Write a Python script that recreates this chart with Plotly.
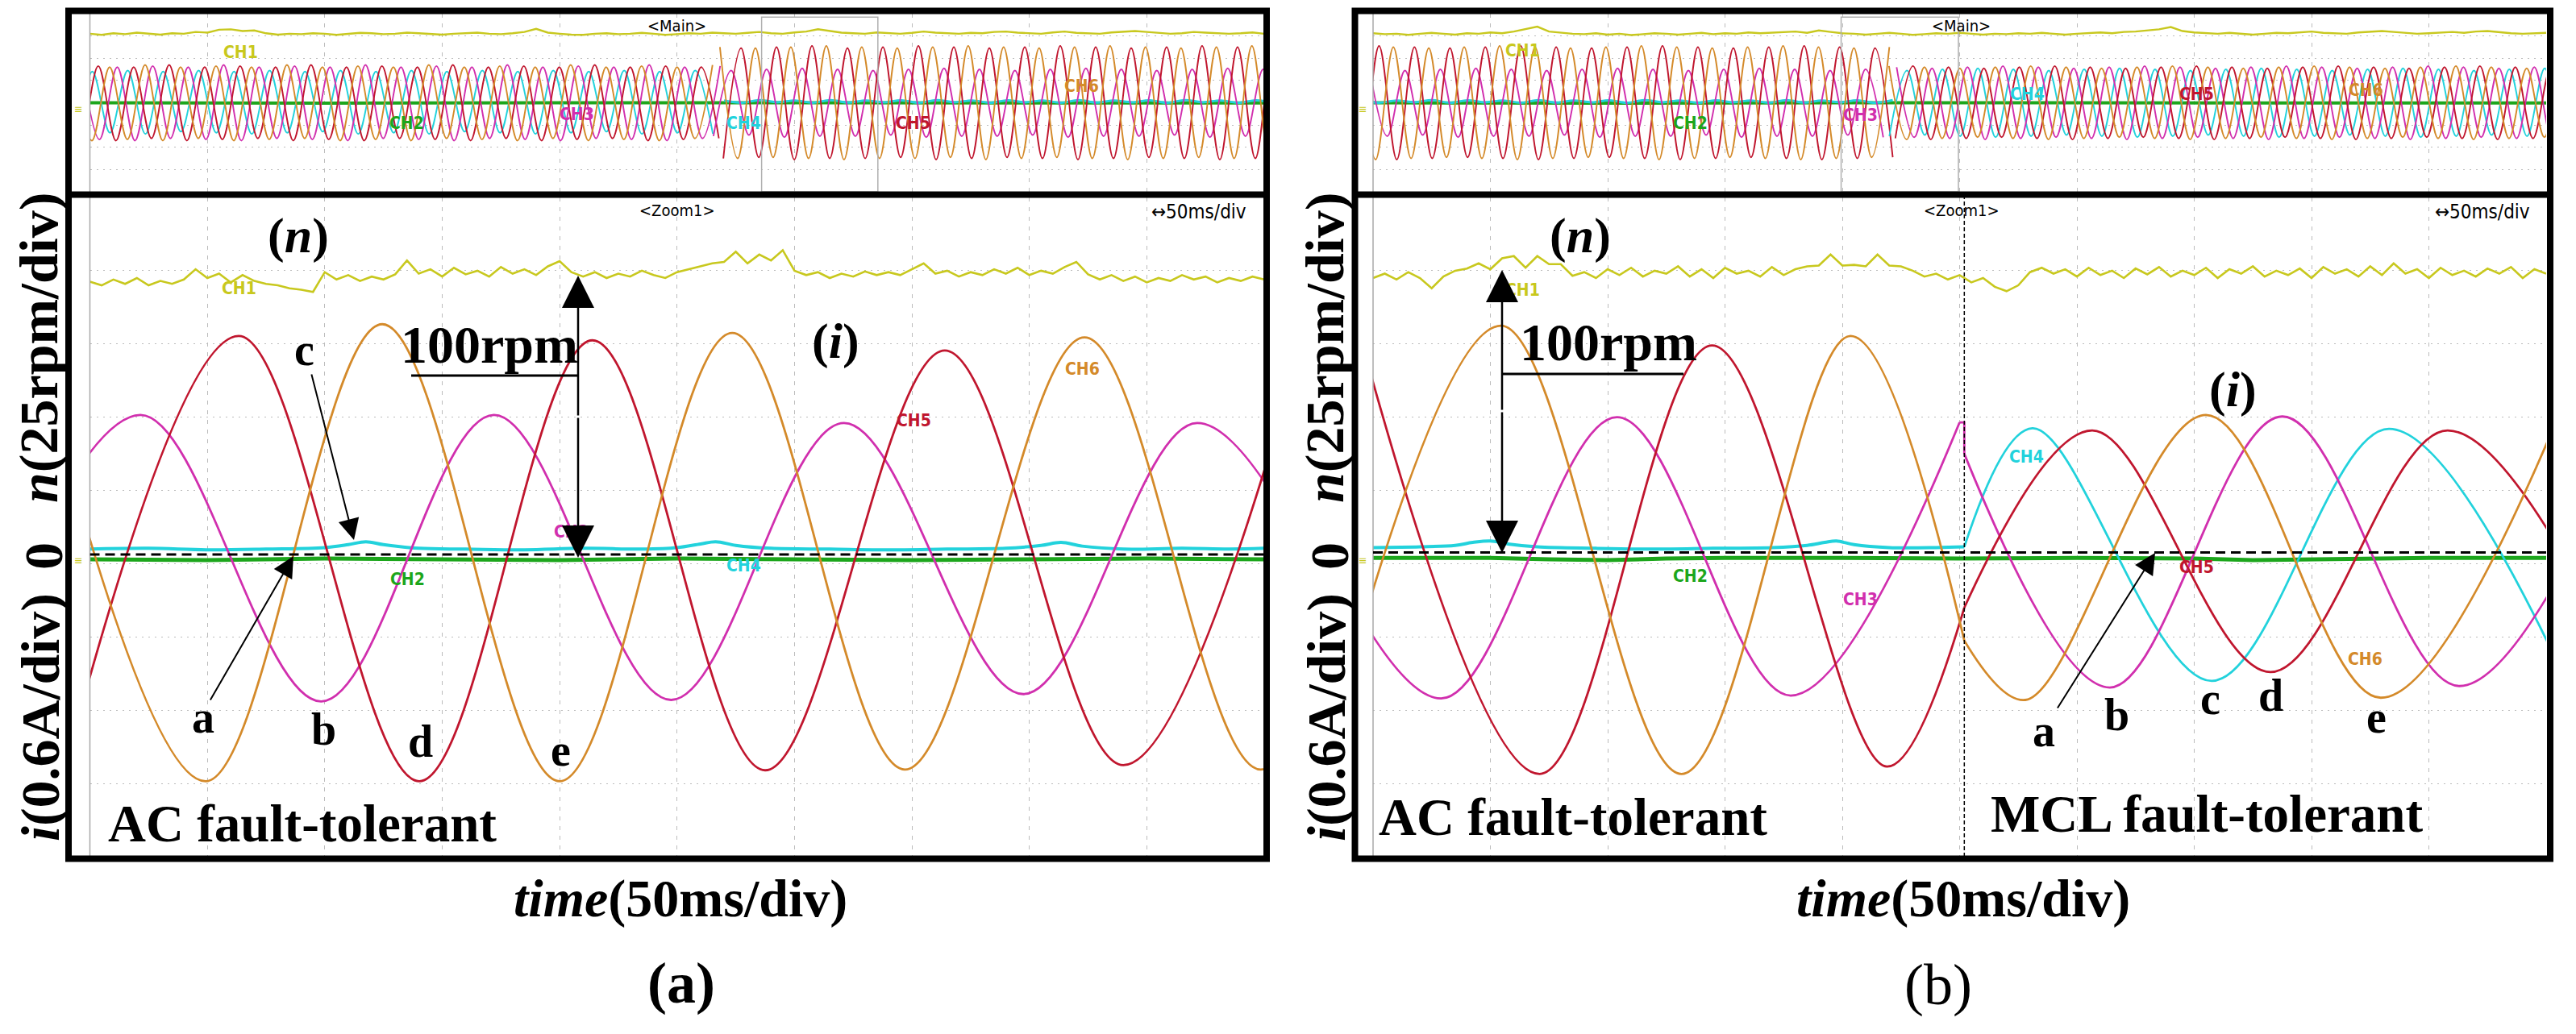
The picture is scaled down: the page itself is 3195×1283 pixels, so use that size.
import numpy as np
import plotly.graph_objects as go

# ======================= DATA =======================
# time unit: oscilloscope divisions (main window 500 ms/div, zoom window 50 ms/div)
# value unit: screen divisions of each window
HALF_MAIN = 0.151          # half period of the phase currents in the main window (div)

# ---------- panel (a) main window: switch MCL -> AC at A_SWITCH ----------
A_SWITCH = 5.45
CH4_A_PRE_T0, CH5_A_PRE_T0, CH6_A_PRE_T0, CH3_A_PRE_T0 = -0.282, -0.231, -0.134, -0.069
CH4_A_PRE = [5.45, 2.6, 5.4, 2.65, 5.45, 2.6, 5.4, 2.7, 5.45, 2.65, 5.4, 2.6, 5.45, 2.65, 5.4, 2.7, 5.45, 2.6, 5.4, 2.65,
             5.45, 2.6, 5.4, 2.7, 5.45, 2.65, 5.4, 2.6, 5.45, 2.65, 5.4, 2.7, 5.45, 2.6, 5.4, 2.65, 5.45, 2.6, 5.4, 2.7]
CH5_A_PRE = [5.6, 2.35, 5.65, 2.3, 5.6, 2.4, 5.7, 2.3, 5.6, 2.35, 5.65, 2.4, 5.6, 2.3, 5.7, 2.35, 5.6, 2.3, 5.65, 2.4,
             5.6, 2.35, 5.7, 2.3, 5.6, 2.4, 5.65, 2.3, 5.6, 2.35, 5.7, 2.4, 5.6, 2.3, 5.65, 2.35, 5.6, 2.4, 5.7, 2.3]
CH6_A_PRE = [5.65, 2.3, 5.6, 2.35, 5.7, 2.3, 5.6, 2.4, 5.65, 2.3, 5.6, 2.35, 5.7, 2.4, 5.6, 2.3, 5.65, 2.35, 5.6, 2.3,
             5.7, 2.4, 5.6, 2.35, 5.65, 2.3, 5.6, 2.4, 5.7, 2.3, 5.6, 2.35, 5.65, 2.3, 5.6, 2.4, 5.7, 2.35, 5.6, 2.3]
CH3_A_PRE = [5.7, 2.35, 5.6, 2.3, 5.65, 2.4, 5.6, 2.35, 5.7, 2.3, 5.6, 2.4, 5.65, 2.35, 5.6, 2.3, 5.7, 2.4, 5.6, 2.35,
             5.65, 2.3, 5.6, 2.4, 5.7, 2.35, 5.6, 2.3, 5.65, 2.4, 5.6, 2.35, 5.7, 2.3, 5.6, 2.4, 5.65, 2.35, 5.6, 2.3]
CH3_A_POST_T0, CH5_A_POST_T0, CH6_A_POST_T0, CH4_A_POST_T0 = 5.159, 5.243, 5.063, 5.40
CH5_A_POST = [6.5, 1.5, 6.45, 1.55, 6.5, 1.45, 6.55, 1.5, 6.45, 1.5, 6.5, 1.55, 6.55, 1.45, 6.5, 1.5, 6.45, 1.55, 6.5,
              1.5, 6.55, 1.45, 6.5, 1.5, 6.45, 1.55, 6.5, 1.5, 6.55, 1.45, 6.5, 1.5, 6.45, 1.55, 6.5, 1.5]
CH6_A_POST = [6.55, 1.45, 6.5, 1.5, 6.45, 1.55, 6.5, 1.5, 6.55, 1.45, 6.5, 1.5, 6.45, 1.5, 6.5, 1.55, 6.55, 1.45, 6.5,
              1.5, 6.45, 1.55, 6.5, 1.5, 6.55, 1.45, 6.5, 1.5, 6.45, 1.55, 6.5, 1.5, 6.55, 1.45, 6.5, 1.5]
CH3_A_POST = [5.5, 2.5, 5.45, 2.55, 5.5, 2.45, 5.55, 2.5, 5.5, 2.5, 5.45, 2.55, 5.5, 2.45, 5.55, 2.5, 5.5, 2.5, 5.45,
              2.55, 5.5, 2.45, 5.55, 2.5, 5.5, 2.5, 5.45, 2.55, 5.5, 2.45, 5.55, 2.5, 5.5, 2.5, 5.45, 2.55]
CH4_A_POST = [4.1, 4.0, 4.12, 4.02, 4.1, 4.0, 4.12, 4.01, 4.1, 4.02, 4.11, 4.0, 4.12, 4.02, 4.1, 4.0, 4.11, 4.02, 4.1,
              4.0, 4.12, 4.01, 4.1, 4.02, 4.11, 4.0, 4.12, 4.02, 4.1, 4.0, 4.11, 4.02, 4.1, 4.0]
CH1_A_MAIN = [7.1, 7.05, 7.12, 7.08, 7.15, 7.1, 7.06, 7.12, 7.1, 7.18, 7.15, 7.28, 7.3, 7.22, 7.25, 7.12, 7.06, 7.1, 7.08,
              7.12, 7.1, 7.05, 7.1, 7.14, 7.12, 7.08, 7.1, 7.15, 7.12, 7.1, 7.06, 7.1, 7.12, 7.15, 7.1, 7.08, 7.12, 7.18,
              7.32, 7.15, 7.1, 7.06, 7.05, 7.1, 7.12, 7.08, 7.1, 7.14, 7.1, 7.05, 7.08, 7.12, 7.1, 7.15, 7.12, 7.1, 7.14,
              7.18, 7.12, 7.1, 7.16, 7.2, 7.3, 7.22, 7.15, 7.12, 7.1, 7.16, 7.12, 7.1, 7.14, 7.2, 7.15, 7.12, 7.1, 7.14,
              7.12, 7.18, 7.2, 7.15, 7.12, 7.1, 7.16, 7.2, 7.14, 7.12, 7.1, 7.16, 7.2, 7.22, 7.18, 7.14, 7.1, 7.12, 7.18,
              7.15, 7.12, 7.1, 7.12, 7.16, 7.1]
CH2_MAIN_X = [0, 2, 4, 6, 8, 10]
CH2_MAIN_Y = [4.0, 3.98, 4.0, 3.99, 4.0, 3.99]
A_ZOOM_BOX = [5.72, 6.71]

# ---------- panel (a) zoom window (AC fault-tolerant) ----------
CH5_A_ZX = [-0.24, 1.267, 2.805, 4.28, 5.75, 7.28, 8.80, 10.3]
CH5_A_ZY = [1.05, 7.11, 1.03, 7.05, 1.18, 6.91, 1.25, 6.9]
CH6_A_ZX = [-0.5, 0.985, 2.49, 4.0, 5.47, 6.94, 8.47, 9.97, 11.45]
CH6_A_ZY = [7.25, 1.03, 7.27, 1.03, 7.15, 1.19, 7.09, 1.19, 7.1]
CH3_A_ZX = [-1.07, 0.43, 1.97, 3.44, 4.95, 6.42, 7.95, 9.43, 10.93]
CH3_A_ZY = [2.12, 6.03, 2.12, 6.03, 2.14, 5.92, 2.22, 5.92, 2.2]
CH4_A_ZX = [0, 0.5, 1.0, 1.5, 2.0, 2.2, 2.35, 2.5, 2.8, 3.2, 3.7, 4.2, 4.7, 5.0, 5.2, 5.33, 5.5, 5.8, 6.3, 6.8,
            7.3, 7.8, 8.1, 8.27, 8.45, 8.8, 9.3, 9.7, 10.0]
CH4_A_ZY = [4.2, 4.21, 4.19, 4.2, 4.22, 4.26, 4.3, 4.26, 4.21, 4.2, 4.19, 4.21, 4.2, 4.22, 4.27, 4.3, 4.25, 4.21, 4.2,
            4.19, 4.2, 4.21, 4.25, 4.29, 4.24, 4.2, 4.21, 4.2, 4.21]
CH2_A_ZX = [0, 1, 2, 3, 4, 5, 6, 7, 8, 9, 10]
CH2_A_ZY = [4.06, 4.05, 4.07, 4.06, 4.05, 4.07, 4.06, 4.05, 4.06, 4.07, 4.06]
CH1_A_Z = [7.85, 7.8, 7.88, 7.82, 7.9, 7.8, 7.86, 7.82, 7.88, 8.02, 7.9, 7.96, 7.84, 7.94, 7.86, 7.82, 7.8, 7.76, 7.74,
           7.71, 7.98, 7.88, 7.94, 7.86, 7.92, 7.88, 7.95, 8.14, 7.96, 8.02, 7.92, 8.04, 7.95, 8.0, 7.92, 8.05, 7.96,
           8.02, 7.94, 8.06, 8.13, 7.98, 7.92, 7.98, 7.9, 7.96, 7.92, 8.0, 7.94, 7.9, 7.98, 8.02, 8.06, 8.1, 8.12, 8.26,
           8.1, 8.22, 8.14, 8.28, 8.0, 7.94, 7.98, 7.9, 7.96, 7.92, 7.99, 7.94, 7.98, 7.94, 8.02, 8.1, 7.96, 8.0, 7.92,
           7.98, 7.94, 8.02, 7.96, 8.04, 7.94, 8.0, 7.96, 8.05, 8.12, 7.95, 7.88, 7.94, 7.86, 7.92, 7.84, 7.9, 7.86,
           7.94, 7.88, 7.92, 7.84, 7.9, 7.86, 7.92, 7.88]
A_ZERO = 4.125

# ---------- panel (b) main window: switch AC -> MCL at B_SWITCH ----------
B_SWITCH = 4.46
CH6_B_PRE_T0, CH3_B_PRE_T0, CH5_B_PRE_T0, CH4_B_PRE_T0 = -0.129, -0.030, -0.251, -0.10
CH5_B_PRE = [6.5, 1.5, 6.55, 1.45, 6.5, 1.5, 6.45, 1.55, 6.5, 1.5, 6.55, 1.45, 6.5, 1.5, 6.45, 1.55, 6.5, 1.5, 6.55,
             1.45, 6.5, 1.5, 6.45, 1.55, 6.5, 1.5, 6.55, 1.45, 6.5, 1.5, 6.45, 1.55, 6.5, 1.5]
CH6_B_PRE = [6.55, 1.45, 6.5, 1.5, 6.45, 1.55, 6.5, 1.5, 6.55, 1.45, 6.5, 1.5, 6.45, 1.55, 6.5, 1.5, 6.55, 1.45, 6.5,
             1.5, 6.45, 1.55, 6.5, 1.5, 6.55, 1.45, 6.5, 1.5, 6.45, 1.55, 6.5, 1.5, 6.55, 1.45]
CH3_B_PRE = [5.5, 2.5, 5.45, 2.55, 5.5, 2.45, 5.55, 2.5, 5.5, 2.5, 5.45, 2.55, 5.5, 2.45, 5.55, 2.5, 5.5, 2.5, 5.45,
             2.55, 5.5, 2.45, 5.55, 2.5, 5.5, 2.5, 5.45, 2.55, 5.5, 2.45, 5.55, 2.5, 5.5, 2.5]
CH4_B_PRE = [4.12, 4.0, 4.1, 4.02, 4.12, 4.0, 4.11, 4.02, 4.1, 4.0, 4.12, 4.01, 4.1, 4.02, 4.11, 4.0, 4.12, 4.02, 4.1,
             4.0, 4.11, 4.02, 4.1, 4.0, 4.12, 4.01, 4.1, 4.02, 4.11, 4.0, 4.12, 4.02, 4.1, 4.0]
CH4_B_POST_T0, CH5_B_POST_T0, CH6_B_POST_T0, CH3_B_POST_T0 = 4.25, 4.301, 4.398, 4.463
CH4_B_POST = [5.5, 2.5, 5.45, 2.55, 5.5, 2.5, 5.55, 2.45, 5.5, 2.5, 5.45, 2.55, 5.5, 2.5, 5.55, 2.45, 5.5, 2.5, 5.45,
              2.55, 5.5, 2.5, 5.55, 2.45, 5.5, 2.5, 5.45, 2.55, 5.5, 2.5, 5.55, 2.45, 5.5, 2.5, 5.45, 2.55, 5.5, 2.5,
              5.55, 2.45, 5.5, 2.5]
CH5_B_POST = [5.6, 2.4, 5.65, 2.35, 5.6, 2.4, 5.55, 2.45, 5.6, 2.4, 5.65, 2.35, 5.6, 2.4, 5.55, 2.45, 5.6, 2.4, 5.65,
              2.35, 5.6, 2.4, 5.55, 2.45, 5.6, 2.4, 5.65, 2.35, 5.6, 2.4, 5.55, 2.45, 5.6, 2.4, 5.65, 2.35, 5.6, 2.4,
              5.55, 2.45, 5.6, 2.4]
CH6_B_POST = [5.65, 2.35, 5.6, 2.4, 5.55, 2.45, 5.6, 2.4, 5.65, 2.35, 5.6, 2.4, 5.55, 2.45, 5.6, 2.4, 5.65, 2.35, 5.6,
              2.4, 5.55, 2.45, 5.6, 2.4, 5.65, 2.35, 5.6, 2.4, 5.55, 2.45, 5.6, 2.4, 5.65, 2.35, 5.6, 2.4, 5.55, 2.45,
              5.6, 2.4]
CH3_B_POST = [5.6, 2.45, 5.55, 2.4, 5.6, 2.35, 5.65, 2.4, 5.6, 2.45, 5.55, 2.4, 5.6, 2.35, 5.65, 2.4, 5.6, 2.45, 5.55,
              2.4, 5.6, 2.35, 5.65, 2.4, 5.6, 2.45, 5.55, 2.4, 5.6, 2.35, 5.65, 2.4, 5.6, 2.45, 5.55, 2.4, 5.6, 2.35,
              5.65, 2.4, 5.6, 2.45]
CH1_B_MAIN = [7.12, 7.08, 7.1, 7.05, 7.1, 7.14, 7.1, 7.06, 7.12, 7.1, 7.16, 7.12, 7.2, 7.3, 7.42, 7.2, 7.14, 7.1, 7.08,
              7.12, 7.06, 7.1, 7.04, 7.08, 7.12, 7.1, 7.06, 7.1, 7.14, 7.08, 7.12, 7.1, 7.16, 7.12, 7.14, 7.18, 7.2,
              7.14, 7.25, 7.18, 7.12, 7.1, 7.06, 7.1, 7.14, 7.1, 7.05, 7.08, 7.12, 7.1, 7.14, 7.1, 7.06, 7.1, 7.08,
              7.12, 7.1, 7.14, 7.1, 7.06, 7.1, 7.12, 7.16, 7.12, 7.18, 7.2, 7.24, 7.3, 7.4, 7.22, 7.16, 7.12, 7.1, 7.14,
              7.1, 7.06, 7.1, 7.14, 7.12, 7.16, 7.2, 7.14, 7.12, 7.1, 7.16, 7.2, 7.22, 7.18, 7.14, 7.1, 7.12, 7.16,
              7.18, 7.14, 7.2, 7.22, 7.16, 7.12, 7.1, 7.12, 7.14]
B_ZOOM_BOX = [3.99, 4.99]

# ---------- panel (b) zoom window (AC | MCL fault-tolerant) ----------
B_Z_SWITCH = 5.04
CH5_B_LX = [-0.1, 1.42, 2.89, 4.38, 5.04]
CH5_B_LY = [7.05, 1.13, 6.98, 1.23, 3.4]
CH5_B_RX = [5.04, 6.13, 7.65, 9.16, 10.67]
CH5_B_RY = [3.4, 5.82, 2.52, 5.82, 2.52]
CH6_B_LX = [-0.45, 1.09, 2.63, 4.07, 5.04]
CH6_B_LY = [1.13, 7.25, 1.13, 7.11, 2.95]
CH6_B_RX = [5.04, 5.56, 7.10, 8.59, 10.1]
CH6_B_RY = [2.95, 2.14, 6.03, 2.17, 6.0]
CH3_B_LX = [-0.92, 0.58, 2.08, 3.56, 5.0]
CH3_B_LY = [6.0, 2.16, 6.0, 2.2, 5.93]
CH3_B_JX = [5.0, 5.04, 5.04]
CH3_B_JY = [5.93, 5.93, 5.5]
CH3_B_RX = [5.04, 6.28, 7.75, 9.26, 10.77]
CH3_B_RY = [5.5, 2.31, 6.01, 2.33, 6.0]
CH4_B_LX = [0, 0.4, 0.7, 0.85, 1.0, 1.15, 1.4, 1.9, 2.4, 2.9, 3.4, 3.7, 3.85, 3.95, 4.1, 4.4, 4.8, 5.04]
CH4_B_LY = [4.22, 4.23, 4.25, 4.29, 4.31, 4.27, 4.23, 4.21, 4.2, 4.21, 4.22, 4.25, 4.29, 4.31, 4.26, 4.22, 4.22, 4.23]
CH4_B_RX = [5.04, 5.62, 7.15, 8.66, 10.17]
CH4_B_RY = [4.23, 5.85, 2.40, 5.84, 2.40]
CH2_B_ZX = [0, 1, 1.5, 2, 2.5, 3, 4, 5, 6, 7, 7.5, 8, 9, 10]
CH2_B_ZY = [4.08, 4.08, 4.06, 4.05, 4.07, 4.08, 4.08, 4.07, 4.08, 4.07, 4.05, 4.06, 4.08, 4.08]
CH1_B_Z = [7.9, 7.96, 7.88, 7.98, 7.9, 7.76, 7.92, 8.0, 8.03, 8.1, 8.02, 8.17, 8.2, 8.04, 8.2, 8.09, 8.09, 7.93,
           7.98, 7.9, 8.02, 7.94, 8.04, 7.92, 8.0, 7.96, 8.06, 7.92, 8.02, 7.9, 8.04, 7.96, 8.0, 7.92, 8.05, 7.94, 8.02,
           8.06, 8.07, 8.22, 8.07, 8.08, 8.06, 8.22, 8.07, 8.06, 8.0, 7.92, 7.96, 7.88, 7.94, 7.84, 7.9, 7.78, 7.72,
           7.8, 7.98, 8.04, 7.96, 8.02, 7.92, 8.04, 7.94, 8.0, 7.9, 8.03, 7.95, 8.05, 7.92, 8.0, 7.94, 8.04, 7.9, 8.02,
           7.96, 8.06, 7.92, 8.0, 7.94, 8.03, 7.9, 8.05, 7.96, 8.02, 7.92, 8.06, 7.94, 8.1, 7.96, 8.02, 7.9, 8.04, 7.94,
           8.0, 7.92, 8.03, 7.96, 8.05, 7.9, 8.02, 7.96]
B_ZERO = 4.154

# ======================= STYLE / GEOMETRY =======================
W, H = 3195, 1283
YEL, GRN, MAG, CYN, RED, ORG = '#c8c81e', '#1ca61c', '#d12fae', '#22d2dc', '#c0162e', '#d48a2a'
SERIF = "Liberation Serif, Times New Roman, serif"
SCOPE = "Liberation Sans Narrow, DejaVu Sans Condensed, Arial Narrow, Liberation Sans, sans-serif"

A_X0, A_X1 = 111.5, 1568
B_X0, B_X1 = 1703, 3158
MAIN_TOP, MAIN_BOT = 17, 238
ZOOM_TOP, ZOOM_BOT = 245, 1063


def px(x):
    return x / W


def py(y):
    return 1 - y / H


fig = go.Figure()


def add(x, y, axes, color, width, shape='spline'):
    fig.add_trace(go.Scatter(x=list(x), y=list(y), xaxis=axes[0], yaxis=axes[1], mode='lines',
                             line=dict(color=color, width=width, shape=shape, smoothing=1.0),
                             hoverinfo='skip', showlegend=False))


def seg(t0, vals, lo, hi):
    t = t0 + HALF_MAIN * np.arange(len(vals))
    v = np.asarray(vals, dtype=float)
    m = (t >= lo) & (t <= hi)
    return t[m], v[m]


MA, ZA, MB, ZB = ('x', 'y'), ('x2', 'y2'), ('x3', 'y3'), ('x4', 'y4')

# ----- panel (a) main -----
add(np.linspace(0, 10, len(CH1_A_MAIN)), CH1_A_MAIN, MA, YEL, 2.4, 'linear')
add(CH2_MAIN_X, CH2_MAIN_Y, MA, GRN, 4, 'linear')
for t0, vals, col in [(CH4_A_PRE_T0, CH4_A_PRE, CYN), (CH3_A_PRE_T0, CH3_A_PRE, MAG),
                      (CH5_A_PRE_T0, CH5_A_PRE, RED), (CH6_A_PRE_T0, CH6_A_PRE, ORG)]:
    add(*seg(t0, vals, -1, A_SWITCH), MA, col, 1.9)
add(*seg(CH4_A_POST_T0, CH4_A_POST, A_SWITCH - HALF_MAIN, 11), MA, CYN, 3)
for t0, vals, col in [(CH3_A_POST_T0, CH3_A_POST, MAG), (CH5_A_POST_T0, CH5_A_POST, RED),
                      (CH6_A_POST_T0, CH6_A_POST, ORG)]:
    add(*seg(t0, vals, A_SWITCH - HALF_MAIN, 11), MA, col, 1.9)

# ----- panel (a) zoom -----
add(np.linspace(0, 10, len(CH1_A_Z)), CH1_A_Z, ZA, YEL, 2.6, 'linear')
add(CH2_A_ZX, CH2_A_ZY, ZA, GRN, 5, 'linear')
add(CH4_A_ZX, CH4_A_ZY, ZA, CYN, 4)
add(CH3_A_ZX, CH3_A_ZY, ZA, MAG, 2.8)
add(CH5_A_ZX, CH5_A_ZY, ZA, RED, 2.8)
add(CH6_A_ZX, CH6_A_ZY, ZA, ORG, 2.8)

# ----- panel (b) main -----
add(np.linspace(0, 10, len(CH1_B_MAIN)), CH1_B_MAIN, MB, YEL, 2.4, 'linear')
add(CH2_MAIN_X, CH2_MAIN_Y, MB, GRN, 4, 'linear')
add(*seg(CH4_B_PRE_T0, CH4_B_PRE, -1, B_SWITCH), MB, CYN, 3)
for t0, vals, col in [(CH3_B_PRE_T0, CH3_B_PRE, MAG), (CH5_B_PRE_T0, CH5_B_PRE, RED),
                      (CH6_B_PRE_T0, CH6_B_PRE, ORG)]:
    add(*seg(t0, vals, -1, B_SWITCH), MB, col, 1.9)
for t0, vals, col in [(CH4_B_POST_T0, CH4_B_POST, CYN), (CH3_B_POST_T0, CH3_B_POST, MAG),
                      (CH5_B_POST_T0, CH5_B_POST, RED), (CH6_B_POST_T0, CH6_B_POST, ORG)]:
    add(*seg(t0, vals, B_SWITCH - HALF_MAIN, 11), MB, col, 1.9)

# ----- panel (b) zoom -----
add(np.linspace(0, 10, len(CH1_B_Z)), CH1_B_Z, ZB, YEL, 2.6, 'linear')
add(CH2_B_ZX, CH2_B_ZY, ZB, GRN, 5, 'linear')
add(CH4_B_LX, CH4_B_LY, ZB, CYN, 4)
add(CH4_B_RX, CH4_B_RY, ZB, CYN, 2.8)
add(CH3_B_LX, CH3_B_LY, ZB, MAG, 2.8)
add(CH3_B_JX, CH3_B_JY, ZB, MAG, 2.8, 'linear')
add(CH3_B_RX, CH3_B_RY, ZB, MAG, 2.8)
add(CH5_B_LX, CH5_B_LY, ZB, RED, 2.8)
add(CH5_B_RX, CH5_B_RY, ZB, RED, 2.8)
add(CH6_B_LX, CH6_B_LY, ZB, ORG, 2.8)
add(CH6_B_RX, CH6_B_RY, ZB, ORG, 2.8)

# ----- axes -----
axc = dict(showticklabels=False, ticks='', zeroline=False, showline=False, showgrid=True,
           gridcolor='#bcbcbc', gridwidth=1, dtick=1, tick0=0, fixedrange=True)
xdash, ydash = '5px,7px', '2px,6px'
fig.update_layout(
    width=W, height=H, margin=dict(l=0, r=0, t=0, b=0, pad=0),
    paper_bgcolor='white', plot_bgcolor='white', showlegend=False,
    xaxis=dict(**axc, domain=[px(A_X0), px(A_X1)], range=[0, 10], griddash=xdash, anchor='y'),
    yaxis=dict(**axc, domain=[py(MAIN_BOT), py(MAIN_TOP)], range=[0, 8], griddash=ydash, anchor='x'),
    xaxis2=dict(**axc, domain=[px(A_X0), px(A_X1)], range=[0, 10], griddash=xdash, anchor='y2'),
    yaxis2=dict(**axc, domain=[py(ZOOM_BOT), py(ZOOM_TOP)], range=[0, 9], griddash=ydash, anchor='x2'),
    xaxis3=dict(**axc, domain=[px(B_X0), px(B_X1)], range=[0, 10], griddash=xdash, anchor='y3'),
    yaxis3=dict(**axc, domain=[py(MAIN_BOT), py(MAIN_TOP)], range=[0, 8], griddash=ydash, anchor='x3'),
    xaxis4=dict(**axc, domain=[px(B_X0), px(B_X1)], range=[0, 10], griddash=xdash, anchor='y4'),
    yaxis4=dict(**axc, domain=[py(ZOOM_BOT), py(ZOOM_TOP)], range=[0, 9], griddash=ydash, anchor='x4'),
)

# ----- shapes -----
shapes = []


def pline(x0, y0, x1, y1, color='black', width=8, dash=None):
    d = dict(type='line', xref='paper', yref='paper', x0=px(x0), y0=py(y0), x1=px(x1), y1=py(y1),
             line=dict(color=color, width=width))
    if dash:
        d['line']['dash'] = dash
    shapes.append(d)


# screen left edges (grey)
for x0 in (A_X0, B_X0):
    pline(x0, MAIN_TOP, x0, MAIN_BOT, '#a8a8a8', 1.5)
    pline(x0, ZOOM_TOP, x0, ZOOM_BOT, '#a8a8a8', 1.5)
# zoom boxes in main windows
shapes.append(dict(type='rect', xref='x', yref='y', x0=A_ZOOM_BOX[0], x1=A_ZOOM_BOX[1], y0=0, y1=7.85,
                   line=dict(color='#b0b0b0', width=1.5)))
shapes.append(dict(type='rect', xref='x3', yref='y3', x0=B_ZOOM_BOX[0], x1=B_ZOOM_BOX[1], y0=0, y1=7.85,
                   line=dict(color='#b0b0b0', width=1.5)))
# zero reference lines
shapes.append(dict(type='line', xref='x2', yref='y2', x0=0, x1=10, y0=A_ZERO, y1=A_ZERO,
                   line=dict(color='black', width=3, dash='12px,7px')))
shapes.append(dict(type='line', xref='x4', yref='y4', x0=0, x1=10, y0=B_ZERO, y1=B_ZERO,
                   line=dict(color='black', width=3, dash='12px,7px')))
# switching instant in (b) zoom
shapes.append(dict(type='line', xref='x4', yref='y4', x0=B_Z_SWITCH, x1=B_Z_SWITCH, y0=0, y1=9,
                   line=dict(color='black', width=1.5, dash='5px,3px')))
# 100rpm underline
pline(510, 466, 717, 466, 'black', 3)
pline(1864, 464, 2088, 464, 'black', 3)
# panel frames
for (l, r) in ((85, 1571), (1680.5, 3163)):
    shapes.append(dict(type='rect', xref='paper', yref='paper', x0=px(l), x1=px(r), y0=py(1065.5), y1=py(13.5),
                       line=dict(color='black', width=8)))
    pline(l, 241.5, r, 241.5, 'black', 8)
fig.update_layout(shapes=shapes)


# ----- text -----
def txt(x, y, s, size, color='black', family=SERIF, angle=0):
    fig.add_annotation(x=px(x), y=py(y), xref='paper', yref='paper', text=s, showarrow=False,
                       font=dict(size=size, color=color, family=family), textangle=angle,
                       xanchor='center', yanchor='middle')


def arrow(tail, tip, width=2.5, size=3.2):
    fig.add_annotation(x=px(tip[0]), y=py(tip[1]), xref='paper', yref='paper',
                       ax=tail[0] - tip[0], ay=tail[1] - tip[1], axref='pixel', ayref='pixel',
                       text='', showarrow=True, arrowhead=2, arrowsize=size, arrowwidth=width,
                       arrowcolor='black', standoff=0)


for cx in (0, 1595):
    # rotated axis labels
    txt(48 + cx, 432, '<b><i>n</i>(25rpm/div)</b>', 68, angle=-90)
    txt(54 + cx, 690, '<b>0</b>', 68, angle=-90)
    txt(50 + cx, 890, '<b><i>i</i>(0.6A/div)</b>', 68, angle=-90)

# scope captions
for cx in (839, 2432):
    txt(cx, 32, '&lt;Main&gt;', 20, family=SCOPE)
    txt(cx, 261, '&lt;Zoom1&gt;', 20, family=SCOPE)
txt(1487, 263, '↔50ms/div', 24, family=SCOPE)
txt(3079, 263, '↔50ms/div', 24, family=SCOPE)
for gx in (97, 1690):
    txt(gx, 135, '≡', 14, color=YEL, family=SCOPE)
    txt(gx, 695, '≡', 14, color=YEL, family=SCOPE)

# channel labels
for (x, y, s, c) in [(298, 65, 'CH1', YEL), (504, 153, 'CH2', GRN), (715, 142, 'CH3', MAG), (923, 153, 'CH4', CYN),
                     (1132, 153, 'CH5', RED), (1341, 107, 'CH6', ORG),
                     (1888, 63, 'CH1', YEL), (2096, 153, 'CH2', GRN), (2307, 143, 'CH3', MAG),
                     (2514, 117, 'CH4', CYN), (2724, 117, 'CH5', RED), (2934, 112, 'CH6', ORG),
                     (296, 358, 'CH1', YEL), (505, 719, 'CH2', GRN), (708, 660, 'CH3', MAG), (923, 702, 'CH4', CYN),
                     (1133, 522, 'CH5', RED), (1342, 458, 'CH6', ORG),
                     (1888, 360, 'CH1', YEL), (2096, 715, 'CH2', GRN), (2307, 744, 'CH3', MAG),
                     (2513, 567, 'CH4', CYN), (2724, 704, 'CH5', RED), (2933, 818, 'CH6', ORG)]:
    txt(x, y, '<b>' + s + '</b>', 21, color=c, family=SCOPE)

# annotations inside the zoom windows
txt(370, 293, '<b>(<i>n</i>)</b>', 62)
txt(1960, 293, '<b>(<i>n</i>)</b>', 62)
txt(607, 427, '<b>100rpm</b>', 66)
txt(1995, 425, '<b>100rpm</b>', 66)
txt(1036, 424, '<b>(<i>i</i>)</b>', 62)
txt(2769, 483, '<b>(<i>i</i>)</b>', 62)
for (x, y, s) in [(377, 434, 'c'), (252, 890, 'a'), (401, 905, 'b'), (521, 920, 'd'), (695, 931, 'e'),
                  (2535, 907, 'a'), (2625, 887, 'b'), (2741, 867, 'c'), (2816, 863, 'd'), (2947, 890, 'e')]:
    txt(x, y, '<b>' + s + '</b>', 56)
txt(375, 1022, '<b>AC fault-tolerant</b>', 65)
txt(1951, 1014, '<b>AC fault-tolerant</b>', 65)
txt(2737, 1010, '<b>MCL fault-tolerant</b>', 65)
txt(844, 1115, '<b><i>time</i>(50ms/div)</b>', 66)
txt(2435, 1115, '<b><i>time</i>(50ms/div)</b>', 66)
txt(845, 1220, '<b>(a)</b>', 72)
txt(2404, 1222, '(b)', 72)

# arrows
arrow((717, 517), (717, 342))
arrow((717, 517), (717, 692))
arrow((1863, 510), (1863, 335))
arrow((1863, 510), (1863, 686))
arrow((386, 463), (439, 670), 2, 2.6)
arrow((260, 870), (364, 690), 2, 2.6)
arrow((2551, 880), (2673, 686), 2, 2.6)

fig.write_html("out.html", config={'displayModeBar': False},
               post_script="document.body.style.margin='0';document.body.style.overflow='hidden';")
